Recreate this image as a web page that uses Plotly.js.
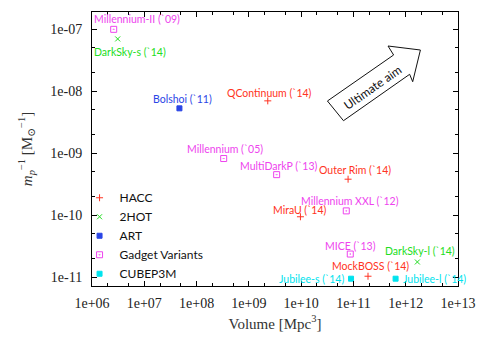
<!DOCTYPE html>
<html>
<head>
<meta charset="utf-8">
<script src="https://cdn.plot.ly/plotly-3.0.1.min.js"></script>
<style>html,body{margin:0;padding:0;background:#fff;}#chart{width:485px;height:337px;}</style>
</head>
<body>
<div id="chart"></div>
<script>
// ---- data ----
const codeNames = ['HACC', '2HOT', 'ART', 'Gadget Variants', 'CUBEP3M'];
const simNames = ["Millennium-II (`09)", "DarkSky-s (`14)", "Bolshoi (`11)", "QContinuum (`14)",
  "Millennium (`05)", "MultiDarkP (`13)", "Outer Rim (`14)", "Millennium XXL (`12)", "MiraU (`14)",
  "MICE (`13)", "DarkSky-l (`14)", "MockBOSS (`14)", "Jubilee-s (`14)", "Jubilee-l (`14)"];
const simVolume = [2.6e6, 3.1e6, 4.7e7, 2.3e9, 3.3e8, 3.4e9, 7.9e10, 7.3e10, 9.7e9, 8.7e10, 1.67e12, 1.9e11, 9.0e10, 6.4e11];
const simInvMass = [1.0e-7, 7.0e-8, 5.3e-9, 7.0e-9, 8.2e-10, 4.5e-10, 3.8e-10, 1.17e-10, 9.4e-11, 2.35e-11, 1.75e-11, 1.03e-11, 9.4e-12, 9.4e-12];
const simCode = ['Gadget Variants', '2HOT', 'ART', 'HACC', 'Gadget Variants', 'Gadget Variants', 'HACC',
  'Gadget Variants', 'HACC', 'Gadget Variants', '2HOT', 'HACC', 'CUBEP3M', 'CUBEP3M'];
const xTickVals = [1e6, 1e7, 1e8, 1e9, 1e10, 1e11, 1e12, 1e13];
const xTickText = ['1e+06', '1e+07', '1e+08', '1e+09', '1e+10', '1e+11', '1e+12', '1e+13'];
const yTickVals = [1e-11, 1e-10, 1e-9, 1e-8, 1e-7];
const yTickText = ['1e-11', '1e-10', '1e-09', '1e-08', '1e-07'];

// ---- styles ----
const codeStyle = {
  'HACC': {color: '#ff3322', symbol: 'cross-thin', size: 5},
  '2HOT': {color: '#22dd22', symbol: 'x-thin', size: 5},
  'ART': {color: '#2a45e6', symbol: 'square', size: 5},
  'Gadget Variants': {color: '#ee44ee', symbol: 'square-open-dot', size: 6},
  'CUBEP3M': {color: '#00e3ee', symbol: 'square', size: 5}
};
// label offsets in pixels [dx, dy(up), anchor]
const labelOffset = [[23, 10, 'center'], [12, -13, 'center'], [3, 9.5, 'center'], [1.5, 8, 'center'],
  [1.3, 9.7, 'center'], [1.5, 9, 'center'], [7, 9.3, 'center'], [4, 9.7, 'center'], [0, 7, 'center'],
  [0, 8, 'center'], [3, 11, 'center'], [2.4, 10, 'center'], [-5, 0, 'right'], [5, 0, 'left']];

const traces = codeNames.map(code => {
  const idx = simCode.map((c, i) => c === code ? i : -1).filter(i => i >= 0);
  const st = codeStyle[code];
  return {
    type: 'scatter', mode: 'markers', name: code,
    x: idx.map(i => simVolume[i]), y: idx.map(i => simInvMass[i]),
    marker: {symbol: st.symbol, size: st.size, color: st.color, line: {color: st.color, width: 1}},
    hoverinfo: 'skip'
  };
});

const labelFont = 'Lato, "Open Sans", sans-serif';
const annotations = simNames.map((name, i) => ({
  x: Math.log10(simVolume[i]), y: Math.log10(simInvMass[i]), xref: 'x', yref: 'y',
  text: name, showarrow: false, xanchor: labelOffset[i][2], yanchor: 'middle',
  xshift: labelOffset[i][0], yshift: labelOffset[i][1],
  font: {family: labelFont, size: 10.5, color: codeStyle[simCode[i]].color}
}));
annotations.push({
  xref: 'paper', yref: 'paper', x: 0.766, y: 0.725, xanchor: 'center', yanchor: 'middle',
  text: 'Ultimate aim', showarrow: false,
  textangle: -35, font: {family: labelFont, size: 12, color: '#111'}
});

// block arrow (paper coords)
const arrowPts = [[0.6433, 0.6752], [0.6871, 0.6033], [0.8679, 0.7726], [0.8762, 0.7456],
  [0.8973, 0.8613], [0.8088, 0.8759], [0.8241, 0.8431]];
const arrowPath = 'M ' + arrowPts.map(p => p[0] + ',' + p[1]).join(' L ') + ' Z';

const serif = '"Liberation Serif", "DejaVu Serif", serif';
const axisCommon = {
  type: 'log', showgrid: false, zeroline: false, showline: true, mirror: 'ticks',
  linecolor: '#000', linewidth: 1, ticks: 'inside', ticklen: 5, tickcolor: '#000', tickwidth: 1,
  tickmode: 'array', tickfont: {family: serif, size: 14, color: '#222'},
  minor: {ticks: 'inside', ticklen: 3, tickcolor: '#000', dtick: 'D2', showgrid: false}
};

const layout = {
  width: 485, height: 337,
  margin: {l: 92, r: 27, t: 12, b: 51},
  paper_bgcolor: '#fff', plot_bgcolor: '#fff',
  showlegend: true,
  legend: {x: -0.034, xanchor: 'left', y: 0.375, yanchor: 'top', bgcolor: 'rgba(0,0,0,0)',
    font: {family: labelFont, size: 12, color: '#111'}, borderwidth: 0, tracegroupgap: 0},
  xaxis: Object.assign({}, axisCommon, {
    range: [6, 13], tickvals: xTickVals, ticktext: xTickText, ticklabelstandoff: 4,
    title: {text: 'Volume [Mpc<sup>3</sup>]', font: {family: serif, size: 15, color: '#333'}, standoff: 8}
  }),
  yaxis: Object.assign({}, axisCommon, {
    range: [-11.145, -6.72], tickvals: yTickVals, ticktext: yTickText, ticklabelstandoff: 6,
    title: {text: '<i>m</i><sub><i>p</i></sub><sup>−1</sup> [M<sub>⊙</sub><sup>−1</sup>]',
      font: {family: serif, size: 15, color: '#333'}, standoff: 14}
  }),
  annotations: annotations,
  shapes: [{type: 'path', xref: 'paper', yref: 'paper', path: arrowPath,
    line: {color: '#111', width: 1}, fillcolor: 'rgba(0,0,0,0)'}]
};

Plotly.newPlot('chart', traces, layout, {displayModeBar: false, staticPlot: true});
</script>
</body>
</html>
